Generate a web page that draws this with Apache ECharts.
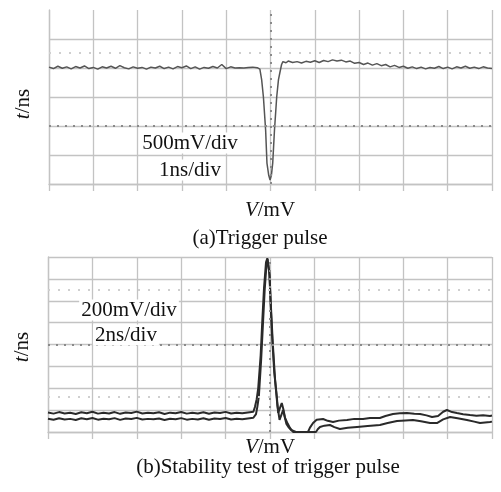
<!DOCTYPE html>
<html>
<head>
<meta charset="utf-8">
<script src="https://cdn.jsdelivr.net/npm/echarts@6/dist/echarts.min.js"></script>
<style>html,body{margin:0;padding:0;background:#fff;}#c{width:501px;height:492px;}</style>
</head>
<body>
<div id="c"></div>
<script>
// ---- Panel (a): trigger pulse, 1 ns/div, 500 mV/div ----
var topTime = [0.0,0.1,0.2,0.3,0.4,0.5,0.6,0.7,0.8,0.9,1.0,1.1,1.2,1.3,1.4,1.5,1.6,1.7,1.8,1.9,
  2.0,2.1,2.2,2.3,2.4,2.5,2.6,2.7,2.8,2.9,3.0,3.1,3.2,3.3,3.4,3.5,3.6,3.7,3.8,3.9,
  4.0,4.1,4.2,4.3,4.4,4.5,4.6,4.7,4.76,4.80,4.84,4.89,4.92,4.96,4.99,5.02,5.05,5.09,5.14,5.18,5.21,5.25,5.28,
  5.35,5.4,5.5,5.6,5.7,5.8,5.9,6.0,6.1,6.2,6.3,6.4,6.5,6.6,6.7,6.8,6.9,7.0,7.1,7.2,7.3,7.4,7.5,7.6,7.7,7.8,7.9,
  8.0,8.1,8.2,8.3,8.4,8.5,8.6,8.7,8.8,8.9,9.0,9.1,9.2,9.3,9.4,9.5,9.6,9.7,9.8,9.9,10.0];
var topVolt = [2015,1990,2030,1995,2020,1985,2025,2000,2035,1990,2010,1980,2020,2000,2030,1995,2040,2005,1985,2020,
  1995,2010,1980,2015,2000,2030,1990,2015,1985,2025,2005,2035,1990,2020,1980,2010,1995,2025,2000,2060,
  1990,2020,2000,2005,2000,2010,2015,2005,1980,1800,1500,930,360,150,70,150,360,930,1500,1800,1914,2060,2110,
  2090,2120,2095,2110,2085,2115,2100,2125,2095,2130,2110,2140,2120,2135,2105,2120,2080,2095,2060,2085,2050,2075,2040,2060,2020,2045,2010,
  2030,1995,2020,1990,2015,1985,2010,1995,2025,1990,2015,1985,2020,2000,2030,1995,2015,1990,2020,2000,1990];

// ---- Panel (b): stability test, 2 ns/div, 200 mV/div (two traces) ----
var bTimeA = [0,0.25,0.5,0.75,1,1.25,1.5,1.75,2,2.25,2.5,2.75,3,3.25,3.5,3.75,4,4.25,4.5,4.75,5,5.25,5.5,5.75,6,6.25,6.5,6.75,7,7.25,7.5,7.75,8,8.25,8.5,8.75,9,9.25,
  9.32,9.40,9.47,9.58,9.65,9.73,9.82,9.88,9.97,10.03,10.10,10.19,10.30,10.37,10.45,10.53,10.60,10.68,10.80,10.90,11.04,11.71,11.80,11.94,
  12.1,12.39,12.6,12.84,13.1,13.47,13.8,14.19,14.5,14.95,15.2,15.54,15.85,16.17,16.5,16.76,17.05,17.30,17.57,17.8,17.97,18.2,18.42,18.7,19.01,19.3,19.6,19.91,20];
var bVoltA = [178,168,182,170,176,165,180,172,185,168,175,170,182,166,178,173,186,169,176,171,180,165,177,172,183,168,175,170,181,167,178,174,184,169,176,171,179,185,
  228,300,402,703,1004,1315,1552,1589,1461,1160,858,548,338,175,220,265,210,128,75,37,0,0,40,82,
  112,119,102,91,104,110,120,119,128,128,146,164,172,173,166,164,152,137,146,185,201,182,173,163,155,148,154,146,150];
var bTimeB = [0,0.25,0.5,0.75,1,1.25,1.5,1.75,2,2.25,2.5,2.75,3,3.25,3.5,3.75,4,4.25,4.5,4.75,5,5.25,5.5,5.75,6,6.25,6.5,6.75,7,7.25,7.5,7.75,8,8.25,8.5,8.75,9,9.25,
  9.37,9.43,9.50,9.60,9.68,9.76,9.84,9.89,9.98,10.05,10.13,10.23,10.33,10.43,10.50,10.59,10.66,10.74,10.85,10.95,11.17,12.07,12.15,12.25,
  12.45,12.70,12.9,13.15,13.5,13.92,14.4,14.95,15.3,15.72,16.1,16.44,16.8,17.21,17.52,17.8,18.11,18.45,18.87,19.2,19.46,19.91,20];
var bVoltB = [122,112,126,115,120,110,125,117,128,113,121,116,127,111,123,118,129,114,120,116,124,110,122,117,127,113,120,115,126,112,123,119,128,114,121,116,124,130,
  164,230,329,657,977,1296,1525,1580,1433,1114,794,475,247,110,150,200,140,73,40,18,0,0,25,46,
  58,64,45,27,38,46,55,64,82,100,106,110,98,82,82,115,137,125,110,95,82,91,95];

function pairs(xs, ys){ return xs.map(function(x,i){ return [x, ys[i]]; }); }

var GRID = '#c3c3c3';
var SERIF = '"Liberation Serif","DejaVu Serif",serif';
var chart = echarts.init(document.getElementById('c'), null, {renderer:'canvas'});

function xAx(gi, max, itv){
  return {gridIndex:gi, type:'value', min:0, max:max, interval:itv,
    axisLine:{show:true, lineStyle:{color:GRID, width:1.3}},
    axisTick:{show:true, inside:false, length:7, lineStyle:{color:GRID, width:1.3}},
    axisLabel:{show:false},
    splitLine:{show:true, lineStyle:{color:GRID, width:1.3}}};
}
function yAx(gi, max, itv, showMax){
  return {gridIndex:gi, type:'value', min:0, max:max, interval:itv,
    axisLine:{show:true, lineStyle:{color:GRID, width:1.3}},
    axisTick:{show:false}, axisLabel:{show:false},
    splitLine:{show:true, showMaxLine:showMax, lineStyle:{color:GRID, width:1.3}}};
}
var dotC = {color:'#8a8a8a', type:[2,6], width:2};
var faint = {color:'#cfcfcf', type:[2,8], width:2};
function italicLabel(x, y, first, rest, rot){
  var el = {type:'text', x:x, y:y, z:10, style:{text:'{i|'+first+'}'+rest, align:'center', verticalAlign:'middle', font:'21px '+SERIF, fill:'#111',
    rich:{i:{fontStyle:'italic', fontFamily:SERIF, fontSize:21, fill:'#111'}}}};
  if (rot) el.rotation = rot;
  return el;
}
function plain(x, y, txt, bg){
  var s = {text:txt, font:'21px '+SERIF, fill:'#111', align:'center', verticalAlign:'middle'};
  if (bg) { s.backgroundColor = '#fff'; s.padding = [0,2]; }
  return {type:'text', x:x, y:y, z:10, style:s};
}

chart.setOption({
  animation:false,
  backgroundColor:'#fff',
  grid:[
    {left:49, top:10, width:443, height:174},
    {left:48, top:257, width:444, height:175}
  ],
  xAxis:[xAx(0,10,1), xAx(1,20,2)],
  yAxis:[yAx(0,3000,500,false), yAx(1,1600,200,true)],
  series:[
    {type:'line', xAxisIndex:0, yAxisIndex:0, data:pairs(topTime, topVolt), showSymbol:false, symbol:'none',
      lineStyle:{color:'#555', width:1.5}, z:3,
      markLine:{silent:true, symbol:'none', label:{show:false}, animation:false,
        data:[{xAxis:5, lineStyle:dotC},{yAxis:1000, lineStyle:dotC},{yAxis:2260, lineStyle:faint}]}},
    {type:'line', xAxisIndex:1, yAxisIndex:1, data:pairs(bTimeA, bVoltA), showSymbol:false, symbol:'none',
      lineStyle:{color:'#2a2a2a', width:2}, z:3,
      markLine:{silent:true, symbol:'none', label:{show:false}, animation:false,
        data:[{xAxis:10, lineStyle:dotC},{yAxis:800, lineStyle:dotC},{yAxis:1300, lineStyle:faint},{yAxis:320, lineStyle:faint}]}},
    {type:'line', xAxisIndex:1, yAxisIndex:1, data:pairs(bTimeB, bVoltB), showSymbol:false, symbol:'none',
      lineStyle:{color:'#2a2a2a', width:2}, z:3}
  ],
  graphic:[
    plain(190, 143, '500mV/div', true),
    plain(190, 170, '1ns/div', true),
    plain(129, 310, '200mV/div', true),
    plain(126, 335, '2ns/div', true),
    italicLabel(270, 210, 'V', '/mV'),
    plain(260, 238, '(a)Trigger pulse', false),
    italicLabel(270, 447, 'V', '/mV'),
    plain(268, 467, '(b)Stability test of trigger pulse', false),
    italicLabel(23, 104, 't', '/ns', Math.PI/2),
    italicLabel(22, 347, 't', '/ns', Math.PI/2)
  ]
});
</script>
</body>
</html>
